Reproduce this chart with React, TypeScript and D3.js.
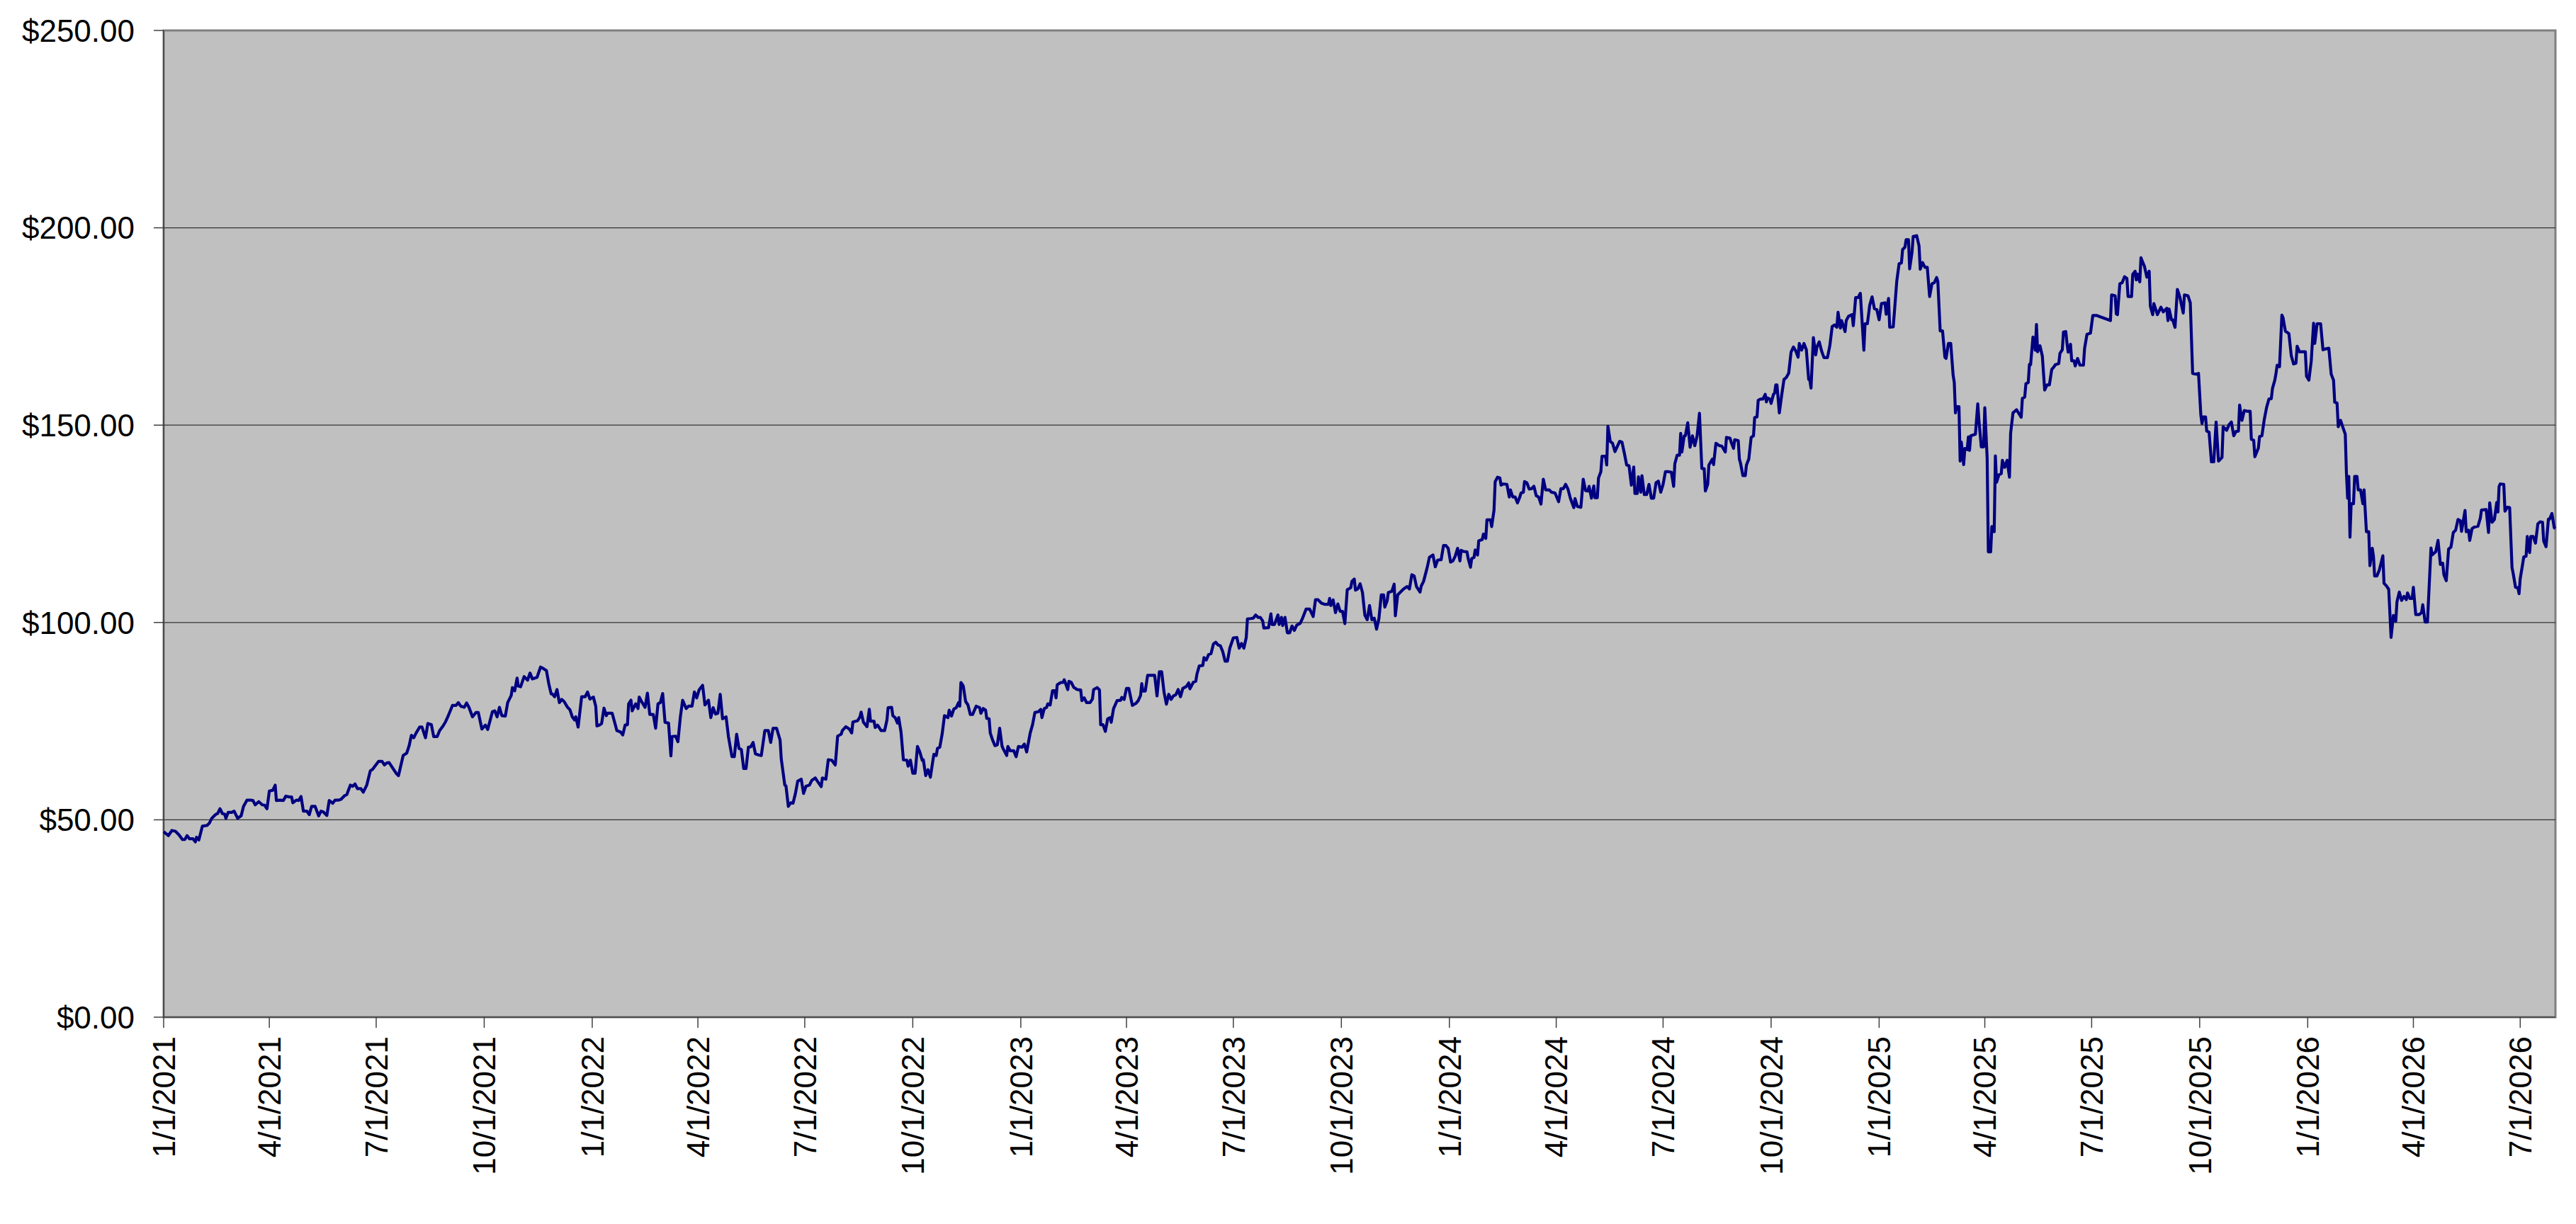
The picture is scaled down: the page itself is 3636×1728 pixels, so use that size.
import * as d3 from "d3"

// price series, [days since 1/1/2021, price]
const START = new Date(Date.UTC(2021, 0, 1))

const prices2021: [number, number][] = [
  [0,47.0],[4,46.0],[7,47.3],[10,47.1],[13,46.2],[16,45.0],[18,45.0],[20,46.0],[22,45.2],[25,45.2],[27,44.4],[28,45.6],[30,44.9],[33,48.4],[37,48.6],[39,49.2],[41,50.4],[44,51.3],[46,51.6],[48,52.8],[50,51.6],[52,51.4],[53,50.4],[55,51.9],[58,51.9],[60,52.2],[63,50.4],[66,51.0],[68,53.4],[71,55.0],[74,55.0],[76,54.9],[78,53.8],[81,54.6],[84,53.8],[86,53.7],[88,52.8],[90,57.3],[93,57.5],[95,58.8],[96,54.9],[99,55.0],[102,54.9],[104,56.0],[107,55.8],[109,55.8],[110,54.3],[113,55.0],[115,54.9],[117,55.9],[119,52.2],[122,52.2],[124,51.3],[126,53.4],[129,53.4],[132,51.0],[134,52.2],[136,52.0],[139,51.1],[141,54.9],[144,54.2],[146,55.0],[149,55.0],[151,55.2],[154,56.1],[156,56.4],[159,58.8],[161,58.5],[163,59.1],[165,57.9],[168,57.9],[170,57.0],[173,58.8],[176,62.4],[178,62.8],[180,63.6],[183,64.8],[186,64.8],[188,63.9],[190,64.4],[192,64.5],[196,62.7],[198,61.8],[200,61.2],[204,66.3],[207,66.9],[209,68.7],[211,71.4],[213,70.8],[215,72.0],[218,73.5],[220,73.5],[223,70.8],[225,74.4],[228,74.1],[230,71.1],[233,71.1],[235,72.6],[238,73.8],[240,74.8],[242,76.1],[246,79.0],[249,79.0],[251,79.7],[253,78.8],[256,78.5],[258,79.6],[260,78.5],[263,76.1],[266,77.2],[268,77.2],[271,73.0],[274,74.0],[276,72.9],
  [280,77.4],[282,77.6],[284,76.1],[286,78.5],[288,76.4],[291,76.3],[293,79.7],[296,81.5],[297,83.5],[299,82.7],[301,85.9],[302,83.9],[304,83.7],[307,86.3],[310,85.4],[312,87.2],[314,85.7],[318,86.1],[321,88.7],[323,88.4],[326,87.8],[328,84.5],[330,81.9],[331,81.9],[333,81.2],[335,83.0],[337,79.7],[339,80.5],[341,80.0],[344,78.5],[346,77.9],[348,76.1],[350,75.3],[351,76.1],[353,73.5],[356,81.2],[359,81.2],[361,82.4],[363,80.6],
]

const prices2022: [number, number][] = [
  [366,81.1],[368,78.8],[369,73.8],[371,74.0],[373,74.4],[375,78.3],[377,76.4],[378,77.0],[382,77.0],[386,72.6],[389,72.3],[391,71.5],[393,74.0],[395,74.1],[396,79.4],[398,80.3],[399,77.6],[402,79.4],[404,78.2],[405,81.1],[407,80.0],[410,78.5],[412,82.1],[414,76.7],[417,76.7],[419,73.2],[421,79.4],[423,79.7],[425,82.0],[427,74.7],[430,74.5],[432,66.2],[433,71.1],[436,71.2],[438,69.8],[440,75.9],[442,80.3],[445,78.2],[447,78.8],[450,78.8],[452,82.4],[454,80.9],[456,82.9],[459,84.1],[461,79.1],[464,80.3],[466,75.9],[468,78.4],[470,76.8],[472,77.0],[474,81.8],[476,75.6],[479,76.1],[481,71.1],[484,66.0],[486,66.0],[488,71.7],[490,68.1],[492,67.8],[494,63.0],[496,63.0],[498,68.4],[500,68.5],[502,69.6],[504,66.7],[507,66.4],[509,66.3],[512,72.6],[515,72.6],[517,69.6],[519,73.2],[522,73.2],[525,70.2],[526,65.4],[529,58.8],[530,58.6],[532,53.4],[534,54.3],[536,54.2],[538,56.6],[540,59.8],[543,60.3],[545,56.7],[547,58.5],[550,58.8],[552,60.0],
  [555,60.6],[557,59.7],[560,58.4],[561,60.6],[564,60.3],[566,65.2],[569,65.1],[572,63.9],[574,71.2],[577,71.7],[578,72.6],[581,73.6],[584,73.0],[586,72.0],[587,74.8],[591,75.1],[593,76.1],[594,77.3],[596,74.7],[599,73.6],[601,78.0],[602,75.0],[605,75.0],[606,73.4],[608,74.0],[611,72.6],[614,72.6],[616,75.3],[617,78.4],[620,78.5],[621,76.4],[623,75.9],[625,74.5],[626,75.9],[628,72.2],[630,65.2],[633,65.1],[634,63.6],[636,65.1],[638,61.8],[640,61.8],[642,68.6],[644,67.2],[646,65.1],[647,65.2],[649,61.2],[651,62.7],[653,60.8],[655,64.8],[656,66.6],[658,66.3],[659,68.1],[661,68.4],[663,71.7],[665,76.4],[668,75.9],[669,77.8],[671,76.3],[673,78.1],[675,78.4],[677,79.7],[678,78.8],[679,84.8],[681,83.9],[683,80.0],[685,79.1],[687,76.7],[689,76.7],[692,78.8],[695,78.4],[696,77.0],[698,78.2],[700,77.8],[701,75.7],[703,75.6],[704,72.0],[706,70.2],[708,68.8],[710,69.0],[712,73.2],[714,68.7],[715,68.0],[718,66.3],[719,68.6],[721,67.5],[724,67.5],[726,66.0],[728,68.6],
]

const prices2023: [number, number][] = [
  [731,68.4],[733,69.2],[735,67.2],[736,68.8],[738,72.0],[740,74.1],[742,77.2],[745,77.4],[747,78.0],[748,75.9],[750,78.2],[752,78.5],[753,79.4],[755,79.1],[757,82.7],[759,82.7],[760,80.9],[761,84.2],[764,84.8],[766,84.8],[767,85.5],[770,83.0],[771,85.1],[773,84.8],[775,83.6],[778,83.0],[781,82.9],[782,80.2],[784,80.9],[786,79.7],[789,79.7],[791,80.6],[792,83.0],[795,83.5],[797,82.9],[798,74.1],[800,74.1],[802,72.4],[804,75.6],[806,75.9],[807,74.7],[809,78.2],[812,80.2],[815,80.3],[816,81.0],[818,80.5],[820,83.3],[822,83.3],
  [825,79.0],[828,79.5],[830,80.2],[832,81.5],[833,84.5],[834,82.6],[836,82.6],[838,86.6],[841,86.6],[844,86.6],[846,81.4],[848,87.5],[850,87.5],[852,82.3],[854,79.3],[856,81.8],[858,80.5],[860,81.4],[862,81.7],[864,83.0],[866,81.2],[868,83.3],[871,83.8],[873,84.7],[874,83.2],[877,84.9],[879,85.1],[880,86.9],[882,89.0],[885,89.1],[886,91.1],[888,90.5],[890,91.9],[892,92.1],[894,94.5],[896,95.0],[898,94.3],[900,94.1],[902,92.6],[904,90.2],[906,90.2],[908,93.5],[911,96.1],[914,96.2],[916,93.5],[918,94.7],[920,93.5],[922,96.2],[923,100.9],[926,101.0],[928,101.1],[930,101.9],[932,101.3],[934,101.3],[936,100.4],[937,98.6],[941,98.7],[943,102.2],[944,99.5],[946,99.5],[949,101.9],[950,99.5],[952,101.3],[953,99.2],[955,101.3],[957,97.4],[959,97.4],[961,99.1],[963,98.0],[965,99.3],[968,99.8],[970,101.1],[973,103.4],[976,103.4],[979,101.5],[981,105.8],[983,105.8],[986,104.9],[989,104.6],[992,104.6],[993,106.1],[994,104.3],[996,105.7],[998,102.5],[1000,104.7],[1002,102.8],[1004,102.8],[1006,99.7],[1008,108.3],[1011,108.8],[1012,110.4],[1014,111.0],[1015,108.2],[1017,108.5],[1019,109.8],[1021,107.6],[1023,101.9],[1025,100.7],[1027,104.3],[1029,100.7],[1031,101.1],[1033,98.3],[1035,101.0],[1037,107.0],[1039,107.0],[1040,103.9],[1042,105.5],[1043,107.6],[1046,107.9],[1048,109.7],[1049,101.7],[1051,107.0],[1054,107.9],[1056,108.5],[1059,109.1],[1061,108.5],[1063,112.1],[1065,111.8],[1067,109.1],[1070,107.7],[1071,109.2],[1073,110.4],[1076,113.8],[1078,116.5],[1081,117.1],[1083,114.1],[1085,115.8],[1088,115.9],[1090,119.5],[1092,119.5],[1094,118.8],
]

const prices2024: [number, number][] = [
  [1096,115.3],[1098,115.6],[1100,116.8],[1102,118.8],[1104,115.6],[1105,118.3],[1107,118.0],[1110,117.9],[1111,116.2],[1113,114.0],[1114,116.2],[1116,116.5],[1117,118.4],[1119,117.1],[1120,120.7],[1123,121.0],[1124,122.4],[1126,121.3],[1127,126.0],[1130,126.0],[1131,124.3],[1133,128.4],[1134,135.7],[1136,136.8],[1138,136.6],[1139,134.8],[1141,135.1],[1144,135.0],[1146,131.8],[1147,133.6],[1149,131.8],[1151,131.8],[1153,130.3],[1155,131.8],[1156,132.8],[1158,133.0],[1159,135.7],[1161,135.4],[1163,133.8],[1165,133.9],[1167,134.5],[1169,132.1],[1171,131.8],[1173,130.0],[1175,136.3],[1177,133.6],[1180,133.6],[1182,133.0],[1185,132.8],[1188,130.6],[1190,133.9],[1192,133.9],[1194,135.0],[1196,133.8],[1198,131.5],[1201,129.1],[1202,131.4],[1204,129.4],[1207,129.2],[1209,136.3],[1211,133.4],[1213,133.3],[1214,134.5],[1216,131.5],[1218,134.6],[1219,131.6],[1221,131.6],[1222,136.6],[1224,138.2],[1225,142.1],[1228,142.1],[1229,139.9],[1230,149.7],[1232,145.9],[1234,145.4],[1236,143.3],[1240,145.9],[1242,145.7],[1244,142.9],[1246,139.9],[1248,139.7],[1250,134.8],[1252,139.4],[1253,132.7],[1255,132.7],[1256,136.9],[1258,133.0],[1259,137.2],[1261,132.4],[1263,132.4],[1265,135.0],[1267,131.5],[1269,131.5],[1271,135.4],[1273,135.8],[1275,133.0],[1277,135.0],[1279,138.2],[1281,138.2],[1284,138.1],[1286,134.5],[1287,140.2],[1289,142.4],[1291,142.4],[1292,147.9],[1293,143.2],[1295,147.3],[1296,147.3],[1298,150.6],[1300,144.4],[1302,147.3],[1304,144.8],[1306,147.3],[1308,153.0],[1310,139.0],[1312,139.0],[1313,133.3],[1315,135.0],[1316,139.9],[1319,141.4],[1320,140.0],[1322,145.4],[1325,144.8],[1327,144.7],[1330,143.2],[1331,146.9],[1334,146.7],[1335,145.7],[1337,144.1],[1338,146.3],[1341,146.1],[1342,141.4],[1343,140.3],[1345,137.2],[1347,137.2],[1348,139.9],[1350,141.4],[1352,146.9],[1354,147.3],[1355,151.9],[1357,152.1],[1358,156.3],[1360,156.6],[1362,156.6],[1364,157.8],[1365,155.9],[1366,156.9],[1368,156.6],[1369,155.5],[1371,157.8],[1372,158.1],[1373,160.2],[1374,160.2],
  [1376,153.1],[1378,157.6],[1380,161.6],[1382,162.1],[1384,163.2],[1386,168.5],[1388,169.8],[1390,168.8],[1392,167.2],[1393,170.7],[1395,169.0],[1397,170.7],[1399,169.1],[1401,161.6],[1402,161.4],[1403,159.4],[1405,172.2],[1407,167.8],[1408,169.8],[1410,171.1],[1412,168.8],[1414,167.1],[1417,167.1],[1419,170.1],[1421,175.0],[1423,175.4],[1425,174.8],[1426,178.6],[1428,174.6],[1429,176.5],[1432,173.7],[1433,176.5],[1435,177.6],[1438,178.0],[1439,175.2],[1441,182.3],[1443,182.3],[1445,183.4],[1448,169.0],[1449,175.7],[1451,175.7],[1453,180.4],[1455,182.5],[1457,179.5],[1459,179.3],
]

const prices2025: [number, number][] = [
  [1461,176.7],[1463,180.8],[1466,181.0],[1467,178.1],[1469,182.1],[1470,174.8],[1473,174.9],[1474,178.6],[1476,186.4],[1478,190.9],[1480,191.1],[1481,194.5],[1483,195.1],[1484,197.0],[1486,197.0],[1487,189.6],[1489,193.8],[1490,197.8],[1493,198.0],[1495,195.4],[1496,189.5],[1498,191.2],[1500,190.0],[1502,190.0],[1504,182.6],[1506,185.8],[1508,186.1],[1510,187.4],[1511,186.4],[1513,173.9],[1515,173.9],[1517,167.2],[1518,166.9],[1520,170.7],[1522,170.7],[1524,162.7],[1525,160.8],[1526,153.1],[1527,154.7],[1529,154.7],[1530,140.9],[1531,145.7],[1533,140.0],[1534,144.1],[1536,143.8],[1537,147.0],[1538,143.6],[1539,147.3],[1543,147.7],[1545,155.4],[1546,151.2],[1548,144.5],[1550,144.5],[1551,154.4],[1553,141.6],[1554,117.9],[1556,117.9],[1557,124.3],[1559,123.0],[1560,142.2],[1561,135.5],[1563,137.4],[1565,137.7],[1566,141.1],[1568,139.3],[1570,141.1],[1572,136.8],[1573,148.0],[1575,153.1],[1578,153.9],[1582,152.0],[1583,156.8],[1585,157.1],[1586,160.5],[1588,160.8],[1589,165.4],[1590,165.3],[1592,172.3],[1594,169.0],[1595,175.5],[1596,168.6],[1598,170.1],[1600,167.5],[1602,158.9],[1604,160.2],[1606,160.2],[1608,164.1],[1610,164.8],[1611,165.3],[1614,165.6],[1615,168.2],[1617,169.1],[1618,173.6],[1620,173.7],[1621,170.7],[1622,168.5],[1624,170.5],[1625,166.3],[1627,166.3],[1628,165.0],[1630,166.9],[1632,165.2],[1635,165.2],[1636,169.5],[1638,173.0],[1641,173.3],[1643,177.8],[1646,177.8],
  [1658,176.5],[1659,183.0],[1662,182.8],[1663,178.2],[1664,178.0],[1666,185.8],[1668,186.1],[1670,187.6],[1672,187.2],[1673,182.6],[1676,182.6],[1677,188.2],[1679,189.0],[1680,186.8],[1681,188.3],[1683,186.3],[1684,192.4],[1687,190.2],[1689,187.5],[1691,189.0],[1692,180.1],[1694,178.0],[1695,180.8],[1698,178.0],[1701,179.9],[1703,178.7],[1706,179.6],[1707,176.5],[1708,179.4],[1710,176.7],[1711,176.7],[1713,174.8],[1715,184.4],[1717,182.6],[1720,178.4],[1721,183.0],[1724,182.8],[1726,181.0],[1728,163.1],[1731,162.9],[1733,163.1],[1735,152.5],[1736,150.4],[1737,152.1],[1739,152.1],[1740,148.5],[1742,148.2],[1744,140.7],[1746,140.7],[1748,150.8],[1750,140.9],[1753,141.8],[1754,149.6],[1757,148.7],[1759,150.1],[1761,150.8],[1763,147.3],[1765,148.4],[1767,148.5],[1768,155.1],[1770,151.2],[1772,153.7],[1775,153.5],[1777,153.5],[1778,146.4],[1780,146.2],[1781,142.0],[1784,144.2],[1785,147.1],[1787,147.3],[1789,151.4],[1791,154.5],[1793,156.6],[1795,156.7],[1796,159.3],[1798,161.4],[1799,163.1],[1800,165.2],[1802,164.8],[1804,177.9],[1805,177.2],[1807,173.8],[1810,173.2],[1812,167.6],[1814,165.5],[1816,165.7],[1817,170.0],[1819,168.6],[1821,168.6],[1824,168.6],[1825,162.4],
]

const prices2026: [number, number][] = [
  [1827,161.4],[1829,166.2],[1831,175.8],[1832,170.7],[1834,175.7],[1837,175.7],[1839,169.1],[1841,169.3],[1844,169.5],[1846,162.9],[1848,161.4],[1849,155.8],[1851,155.6],[1852,149.6],[1854,151.2],[1856,149.4],[1858,147.7],[1859,137.7],[1860,131.5],[1861,137.0],[1862,121.6],[1863,130.1],[1865,130.1],[1866,137.0],[1868,137.0],[1869,133.6],[1871,133.6],[1873,130.1],[1874,133.6],[1876,123.0],[1878,123.0],[1879,114.4],[1881,118.8],[1882,116.8],[1883,111.8],[1885,111.8],[1887,113.3],[1890,116.9],[1891,109.9],[1893,109.3],[1895,108.4],[1897,96.2],[1899,101.8],[1901,100.3],[1902,105.2],[1904,107.7],[1906,105.6],[1908,106.6],[1910,105.8],[1911,107.5],[1913,106.1],[1915,106.1],[1916,108.9],[1918,102.0],[1921,102.0],[1923,102.5],[1924,104.5],[1926,100.1],[1928,100.1],[1931,118.9],
  [1932,117.1],[1935,117.9],[1937,120.8],[1939,114.7],[1941,115.0],[1942,112.1],[1944,110.6],[1946,118.6],[1948,119.1],[1950,122.8],[1952,123.4],[1954,126.1],[1956,125.8],[1957,123.1],[1960,128.4],[1961,123.0],[1963,123.4],[1964,120.8],[1966,123.8],[1968,124.2],[1971,124.4],[1973,126.4],[1974,128.5],[1978,128.6],[1980,122.8],[1981,130.3],[1983,125.4],[1985,126.1],[1987,130.4],[1988,128.0],[1989,134.5],[1990,135.1],[1993,135.0],[1994,128.2],[1996,129.2],[1998,129.1],[2000,113.9],[2001,112.4],[2003,108.9],[2005,108.8],[2006,107.3],[2007,111.1],[2009,114.7],[2010,116.6],[2012,116.8],[2013,121.8],[2015,117.7],[2016,121.8],[2018,121.8],[2020,120.1],[2022,125.0],[2024,125.5],[2026,125.4],[2027,120.6],[2029,119.2],[2031,126.2],[2032,126.2],[2034,127.6],[2036,124.0],[2037,123.8],
]

const xTickLabels = [
  "1/1/2021", "4/1/2021", "7/1/2021", "10/1/2021",
  "1/1/2022", "4/1/2022", "7/1/2022", "10/1/2022",
  "1/1/2023", "4/1/2023", "7/1/2023", "10/1/2023",
  "1/1/2024", "4/1/2024", "7/1/2024", "10/1/2024",
  "1/1/2025", "4/1/2025", "7/1/2025", "10/1/2025",
  "1/1/2026", "4/1/2026", "7/1/2026",
]

const yTicks = [0, 50, 100, 150, 200, 250]

const series = [...prices2021, ...prices2022, ...prices2023, ...prices2024, ...prices2025, ...prices2026]

export default function App() {
  const width = 3636
  const height = 1728
  const margin = { top: 43, right: 29, bottom: 292, left: 231 }
  const plotRight = width - margin.right
  const plotBottom = height - margin.bottom

  const lastDay = series[series.length - 1][0]
  const toDate = (day: number) => d3.utcDay.offset(START, day)

  const x = d3.scaleUtc()
    .domain([START, toDate(lastDay)])
    .range([margin.left, plotRight])

  const y = d3.scaleLinear()
    .domain([0, 250])
    .range([plotBottom, margin.top])

  const parseLabel = d3.utcParse("%m/%d/%Y")
  const fmtDollar = d3.format("$.2f")

  const line = d3.line<[number, number]>()
    .x(d => x(toDate(d[0])))
    .y(d => y(d[1]))

  const font = "'Liberation Sans', Arial, Helvetica, sans-serif"

  return (
    <svg
      width={width}
      height={height}
      style={{ position: "absolute", left: 0, top: 0, background: "#fff" }}
      fontFamily={font}
    >
      {/* plot area */}
      <rect
        x={margin.left}
        y={margin.top}
        width={plotRight - margin.left}
        height={plotBottom - margin.top}
        fill="#C0C0C0"
        stroke="#808080"
        strokeWidth={3}
      />

      {/* gridlines */}
      {yTicks.filter(t => t > 0 && t < 250).map(t => (
        <line key={"g" + t} x1={margin.left} x2={plotRight} y1={y(t)} y2={y(t)} stroke="#333" strokeWidth={1.2} />
      ))}

      {/* axes */}
      <line x1={margin.left} x2={margin.left} y1={margin.top} y2={plotBottom} stroke="#404040" strokeWidth={1.6} />
      <line x1={margin.left} x2={plotRight} y1={plotBottom} y2={plotBottom} stroke="#404040" strokeWidth={1.6} />

      {/* y ticks */}
      {yTicks.map(t => (
        <g key={"y" + t}>
          <line x1={margin.left - 14} x2={margin.left} y1={y(t)} y2={y(t)} stroke="#404040" strokeWidth={1.5} />
          <text x={190} y={y(t)} dy="0.36em" textAnchor="end" fontSize={44} fill="#000">
            {fmtDollar(t)}
          </text>
        </g>
      ))}

      {/* x ticks */}
      {xTickLabels.map(label => {
        const px = x(parseLabel(label) as Date)
        return (
          <g key={label}>
            <line x1={px} x2={px} y1={plotBottom} y2={plotBottom + 15} stroke="#404040" strokeWidth={1.5} />
            <text
              transform={`translate(${px},${plotBottom + 27}) rotate(-90)`}
              dy="0.36em"
              textAnchor="end"
              fontSize={44}
              fill="#000"
            >
              {label}
            </text>
          </g>
        )
      })}

      {/* price line */}
      <path
        d={line(series) ?? ""}
        fill="none"
        stroke="#000080"
        strokeWidth={4.2}
        strokeLinejoin="round"
      />
    </svg>
  )
}
